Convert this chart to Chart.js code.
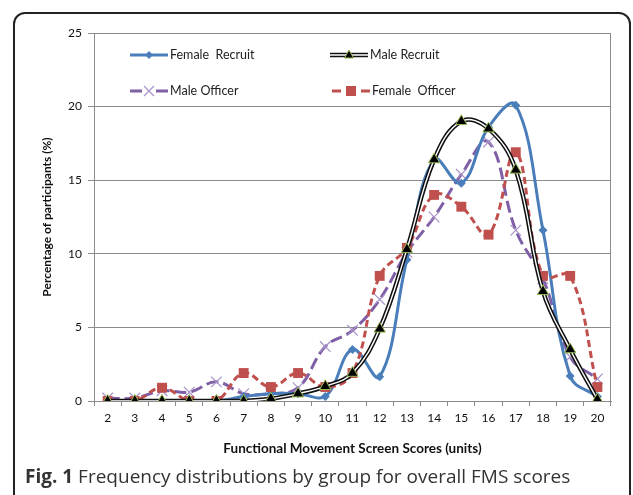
<!DOCTYPE html>
<html>
<head>
<meta charset="utf-8">
<script src="https://cdn.jsdelivr.net/npm/chart.js@4/dist/chart.umd.min.js"></script>
<style>
  html, body { margin: 0; padding: 0; background: #fff; }
  body { width: 633px; height: 495px; position: relative; overflow: hidden; }
  #frame {
    position: absolute; left: 13px; top: 12px; width: 614px; height: 520px;
    border: 2px solid #222; border-radius: 12px;
  }
  #wrap { position: absolute; left: 0; top: 0; width: 633px; height: 495px; }
  #caption {
    position: absolute; left: 25px; top: 463px; font-family: "Open Sans", sans-serif;
    font-size: 19px; color: #333; white-space: nowrap;
  }
  #caption b { font-weight: bold; }
</style>
</head>
<body>
<div id="frame"></div>
<div id="wrap"><canvas id="chart" width="633" height="495"></canvas></div>
<div id="caption"><b>Fig. 1</b> Frequency distributions by group for overall FMS scores</div>
<script>
const scores = ['2','3','4','5','6','7','8','9','10','11','12','13','14','15','16','17','18','19','20'];
const femaleRecruit = [0, 0, 0, 0, 0, 0.3, 0.5, 0.5, 0.3, 3.5, 1.65, 9.6, 16.4, 14.8, 18.6, 20.1, 11.6, 1.7, 0.3];
const maleRecruit = [0, 0, 0, 0, 0, 0, 0.15, 0.5, 1.0, 1.9, 4.9, 10.3, 16.4, 19.0, 18.5, 15.7, 7.45, 3.5, 0.1];
const maleOfficer = [0.2, 0.2, 0.7, 0.6, 1.3, 0.5, 0.5, 0.9, 3.7, 4.8, 6.9, 10.1, 12.5, 15.4, 17.6, 11.6, 8.3, 3.0, 1.5];
const femaleOfficer = [0, 0, 0.9, 0, 0, 1.9, 0.95, 1.9, 0.95, 1.9, 8.5, 10.4, 14.0, 13.2, 11.3, 16.9, 8.5, 8.5, 0.95];
const yTicks = [0, 5, 10, 15, 20, 25];

const BLUE = '#4a7ebb', RED = '#c0504d', PURPLE = '#7f5fa6', XMARK = '#a893c9', GREEN = '#9bbb59';
const FONT = 'Lato, "Liberation Sans", sans-serif';

// legend drawn inside the plot, Excel style
const legendPlugin = {
  id: 'xlLegend',
  afterDraw(chart) {
    const c = chart.ctx, a = chart.chartArea;
    const items = [
      { x: a.left + 36, y: a.top + 22, text: 'Female  Recruit', kind: 'blue' },
      { x: a.left + 236, y: a.top + 22, text: 'Male Recruit', kind: 'black' },
      { x: a.left + 36, y: a.top + 58, text: 'Male Officer', kind: 'purple' },
      { x: a.left + 238, y: a.top + 58, text: 'Female  Officer', kind: 'red' }
    ];
    c.save();
    items.forEach(it => {
      const x0 = it.x, x1 = it.x + 38, y = it.y, xm = (x0 + x1) / 2;
      c.lineCap = 'butt';
      if (it.kind === 'blue') {
        c.strokeStyle = BLUE; c.lineWidth = 3; c.setLineDash([]);
        c.beginPath(); c.moveTo(x0, y); c.lineTo(x1, y); c.stroke();
        c.fillStyle = BLUE; c.beginPath();
        c.moveTo(xm, y - 4); c.lineTo(xm + 4, y); c.lineTo(xm, y + 4); c.lineTo(xm - 4, y); c.closePath(); c.fill();
      } else if (it.kind === 'black') {
        c.strokeStyle = '#111'; c.lineWidth = 4.5; c.setLineDash([]);
        c.beginPath(); c.moveTo(x0, y); c.lineTo(x1, y); c.stroke();
        c.strokeStyle = '#fff'; c.lineWidth = 1.4;
        c.beginPath(); c.moveTo(x0, y); c.lineTo(x1, y); c.stroke();
        c.fillStyle = '#000'; c.strokeStyle = GREEN; c.lineWidth = 1;
        c.beginPath(); c.moveTo(xm, y - 5); c.lineTo(xm + 4.5, y + 3); c.lineTo(xm - 4.5, y + 3); c.closePath(); c.fill(); c.stroke();
      } else if (it.kind === 'purple') {
        c.strokeStyle = PURPLE; c.lineWidth = 3;
        c.beginPath(); c.moveTo(x0, y); c.lineTo(x0 + 12, y); c.moveTo(x1 - 12, y); c.lineTo(x1, y); c.stroke();
        c.strokeStyle = XMARK; c.lineWidth = 1.2;
        c.beginPath(); c.moveTo(xm - 5, y - 5); c.lineTo(xm + 5, y + 5); c.moveTo(xm - 5, y + 5); c.lineTo(xm + 5, y - 5); c.stroke();
      } else {
        c.strokeStyle = RED; c.lineWidth = 3;
        c.beginPath(); c.moveTo(x0, y); c.lineTo(x0 + 9, y); c.moveTo(x1 - 9, y); c.lineTo(x1, y); c.stroke();
        c.fillStyle = RED; c.fillRect(xm - 5, y - 5, 10, 10);
      }
      c.fillStyle = '#222'; c.font = '12.5px ' + FONT; c.textBaseline = 'middle'; c.textAlign = 'left';
      c.fillText(it.text, x1 + 2, y);
    });
    c.restore();
  },
  beforeDatasetsDraw(chart) {
    const c = chart.ctx, a = chart.chartArea;
    c.save();
    c.strokeStyle = '#8c8c8c'; c.lineWidth = 1;
    c.beginPath();
    c.moveTo(a.left, a.top + 0.5); c.lineTo(a.right - 0.5, a.top + 0.5); c.lineTo(a.right - 0.5, a.bottom);
    c.stroke();
    c.restore();
  }
};

new Chart(document.getElementById('chart').getContext('2d'), {
  type: 'line',
  data: {
    labels: scores,
    datasets: [
      {
        label: 'Male Recruit (markers)', data: maleRecruit, showLine: false,
        pointStyle: 'triangle', pointRadius: 6.5, pointBackgroundColor: '#000',
        pointBorderColor: GREEN, pointBorderWidth: 1
      },
      {
        label: 'Male Recruit inner', data: maleRecruit, borderColor: '#fff', borderWidth: 1.4,
        tension: 0.4, pointRadius: 0
      },
      {
        label: 'Male Recruit', data: maleRecruit, borderColor: '#111', borderWidth: 4.5,
        tension: 0.4, pointRadius: 0
      },
      {
        label: 'Female  Officer', data: femaleOfficer, borderColor: RED, borderWidth: 3,
        borderDash: [7, 4], tension: 0.4, pointStyle: 'rect', pointRadius: 7,
        pointBackgroundColor: RED, pointBorderColor: RED, pointBorderWidth: 0
      },
      {
        label: 'Female  Recruit', data: femaleRecruit, borderColor: BLUE, borderWidth: 3,
        tension: 0.4, pointStyle: 'rectRot', pointRadius: 4.5,
        pointBackgroundColor: BLUE, pointBorderColor: BLUE, pointBorderWidth: 0
      },
      {
        label: 'Male Officer', data: maleOfficer, borderColor: PURPLE, borderWidth: 3,
        borderDash: [12, 5], tension: 0.4, pointStyle: 'crossRot', pointRadius: 7.5,
        pointBorderColor: XMARK, pointBorderWidth: 1.2
      }
    ]
  },
  options: {
    responsive: false,
    animation: false,
    layout: { padding: { left: 36, top: 33, right: 22, bottom: 34 } },
    plugins: {
      legend: { display: false },
      tooltip: { enabled: false }
    },
    scales: {
      x: {
        offset: true,
        afterFit: s => { s.height = 60; },
        grid: { offset: true, drawOnChartArea: false, drawTicks: true, tickLength: 5, color: '#8c8c8c' },
        border: { display: true, color: '#8c8c8c' },
        ticks: { color: '#111', font: { family: FONT, size: 12 }, maxRotation: 0, autoSkip: false, padding: 5 },
        title: {
          display: true, text: 'Functional Movement Screen Scores (units)', color: '#111',
          font: { family: FONT, size: 13.5, weight: 'bold' }, padding: { top: 7 }
        }
      },
      y: {
        min: 0, max: 25,
        afterFit: s => { s.width = 58; },
        afterBuildTicks: s => { s.ticks = yTicks.map(v => ({ value: v })); },
        grid: { color: '#8c8c8c', tickLength: 6 },
        border: { display: true, color: '#8c8c8c' },
        ticks: { color: '#111', font: { family: FONT, size: 12 }, padding: 6 },
        title: {
          display: true, text: 'Percentage of participants (%)', color: '#111',
          font: { family: FONT, size: 12, weight: 'bold' }, padding: { top: 4, bottom: 0 }
        }
      }
    }
  },
  plugins: [legendPlugin]
});
</script>
</body>
</html>
